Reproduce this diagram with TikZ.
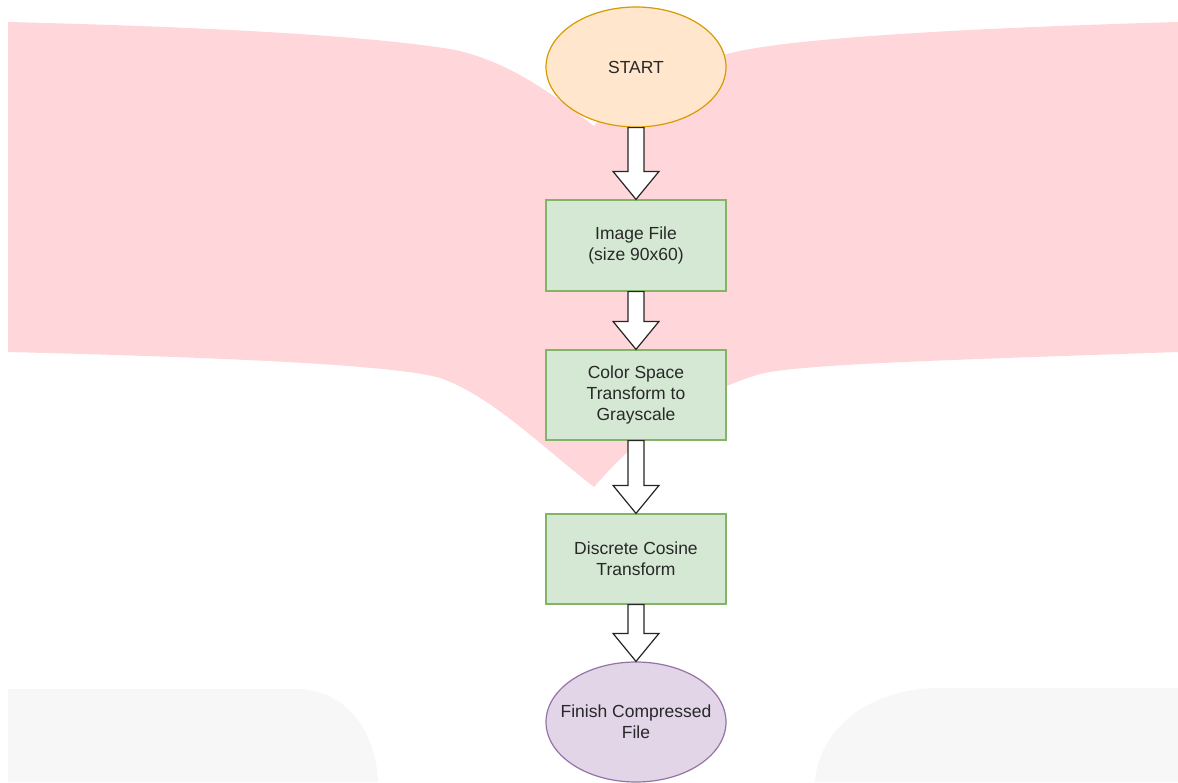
\documentclass[tikz,border=0pt]{standalone}
\usepackage{fontspec}
\setmainfont{Liberation Sans}
\usetikzlibrary{shapes.geometric,calc}
\definecolor{pinkbg}{RGB}{255,215,218}
\definecolor{greybg}{RGB}{247,247,247}
\definecolor{startfill}{HTML}{FFE6CC}
\definecolor{startdraw}{HTML}{D79B00}
\definecolor{boxfill}{HTML}{D5E8D4}
\definecolor{boxdraw}{HTML}{82B366}
\definecolor{endfill}{HTML}{E1D5E7}
\definecolor{enddraw}{HTML}{9673A6}
\definecolor{textcol}{RGB}{40,40,40}
\tikzset{
  flowtext/.style={text=textcol, font=\fontsize{17.5}{21}\selectfont, align=center, inner sep=0pt},
  terminal/.style={flowtext, ellipse, minimum width=180pt, minimum height=120pt, inner xsep=-16pt, line width=1.2pt},
  startnode/.style={terminal, fill=startfill, draw=startdraw},
  endnode/.style={terminal, fill=endfill, draw=enddraw},
  stepbox/.style={flowtext, rectangle, minimum width=180pt, minimum height=90pt, fill=boxfill, draw=boxdraw, line width=1.2pt},
  arrowbox/.style={draw=black!85, fill=white, line width=1.2pt, line join=miter}
}
\newcommand\blockarrow[2]{%
  \draw[arrowbox] let \p1=(#1.south), \p2=(#2.north) in
    (\x1-8pt,\y1) -- (\x1+8pt,\y1) -- (\x1+8pt,\y2+28pt) -- (\x1+23pt,\y2+28pt)
    -- (\x1,\y2) -- (\x1-23pt,\y2+28pt) -- (\x1-8pt,\y2+28pt) -- cycle;}
\begin{document}
\begin{tikzpicture}[x=1pt,y=-1pt]
\useasboundingbox (0,0) rectangle (1178,782);
\fill[white] (0,0) rectangle (1178,782);
% pink background
\fill[pinkbg] (8,22) .. controls (250,28) and (380,38) .. (450,49)
  .. controls (510,60) and (560,100) .. (594,126) -- (636,70) -- (727,54)
  .. controls (770,42) and (900,30) .. (1178,22) -- (1178,352)
  .. controls (950,360) and (800,364) .. (760,374)
  .. controls (700,392) and (645,428) .. (594,487)
  .. controls (540,445) and (490,395) .. (440,378)
  .. controls (400,366) and (250,358) .. (8,352) -- cycle;
% light grey shapes at the bottom
\fill[greybg] (8,782) -- (8,689) -- (300,689) .. controls (350,692) and (376,735) .. (378,782) -- cycle;
\fill[greybg] (815,782) .. controls (818,735) and (860,692) .. (932,688) -- (1178,688) -- (1178,782) -- cycle;
% nodes
\node[startnode] (start) at (636,67) {START};
\node[stepbox, minimum height=91pt] (img) at (636,245.5) {Image File\\(size 90x60)};
\node[stepbox] (csp) at (636,395) {Color Space\\Transform to\\Grayscale};
\node[stepbox] (dct) at (636,559) {Discrete Cosine\\Transform};
\node[endnode] (fin) at (636,722) {Finish Compressed\\File};
% connectors
\blockarrow{start}{img}
\blockarrow{img}{csp}
\blockarrow{csp}{dct}
\blockarrow{dct}{fin}
\end{tikzpicture}
\end{document}
